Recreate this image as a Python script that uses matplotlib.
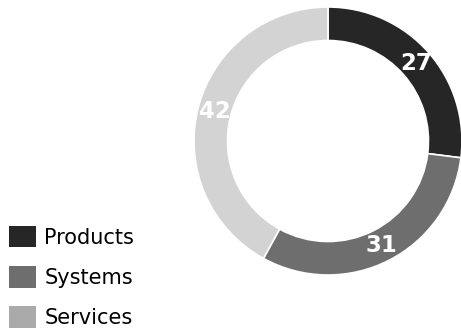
import matplotlib
matplotlib.use("Agg")
import numpy as np
import matplotlib.pyplot as plt
from matplotlib.patches import Patch

categories = ["Products", "Systems", "Services"]
shares = [27, 31, 42]
ring_colors = ["#262626", "#6e6e6e", "#d3d3d3"]
legend_colors = ["#262626", "#6e6e6e", "#aaaaaa"]

W, H, DPI = 461, 330, 100
fig = plt.figure(figsize=(W / DPI, H / DPI), dpi=DPI)

# donut axes: centre (328, 141) px from top-left, radius 134 px
cx, cy, r = 328, 141, 134
ax = fig.add_axes([(cx - r) / W, (H - cy - r) / H, 2 * r / W, 2 * r / H])
ring = 0.25
wedges, _ = ax.pie(
    shares,
    colors=ring_colors,
    startangle=90,
    counterclock=False,
    radius=1.0,
    wedgeprops=dict(width=ring, edgecolor="white", linewidth=1.2),
)
for w in wedges:
    w.set_clip_on(False)
ax.set_xlim(-1, 1)
ax.set_ylim(-1, 1)
ax.set_aspect("equal")
ax.axis("off")

# value labels centred within the ring
start = 90.0
mid_r = 1 - ring / 2
for val in shares:
    mid = np.deg2rad(start - val * 3.6 / 2)
    ax.text(mid_r * np.cos(mid), mid_r * np.sin(mid), f"{val}",
            ha="center", va="center", color="white",
            fontsize=16.5, fontweight="bold", clip_on=False)
    start -= val * 3.6

handles = [Patch(facecolor=c, edgecolor="none") for c in legend_colors]
fig.legend(
    handles, categories,
    loc="lower left",
    bbox_to_anchor=(7 / W, 0.0),
    bbox_transform=fig.transFigure,
    frameon=False,
    fontsize=15,
    handlelength=1.3,
    handleheight=1.2,
    handletextpad=0.4,
    labelspacing=0.88,
    borderpad=0.0,
    borderaxespad=0.1,
)

fig.savefig("out.png", dpi=DPI)
